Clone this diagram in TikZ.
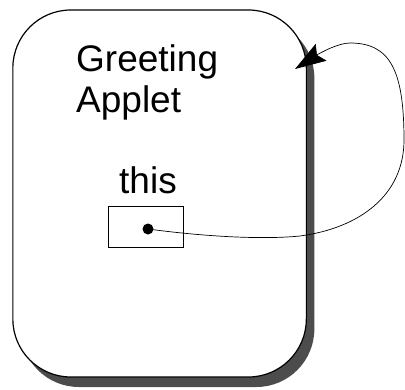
\documentclass[tikz,border=0pt]{standalone}
\usepackage{fontspec}
\setmainfont{Liberation Sans}
\usetikzlibrary{arrows.meta,shadows}

\begin{document}
\begin{tikzpicture}[x=1pt,y=-1pt,
    label/.style={anchor=base west,inner sep=0pt,font=\fontsize{37}{41}\selectfont},
    object/.style={draw,line width=1.2pt,rounded corners=58pt,fill=white,
      drop shadow={shadow xshift=8pt,shadow yshift=-10pt,fill=black!70,opacity=1}},
    slot/.style={draw,line width=0.8pt,inner sep=0pt},
    ref/.style={-{Stealth[length=31pt,width=20pt,inset=5pt]},line width=0.7pt}]

  \useasboundingbox (0,0) rectangle (405,389);

  \node[object,minimum width=293.5pt,minimum height=367pt] (applet) at (159.6,193.5) {};
  \node[label] (greeting) at (76,71)  {Greeting};
  \node[label] (name)     at (76,112) {Applet};
  \node[label] (this)     at (119,193) {this};

  \node[slot,minimum width=75pt,minimum height=41pt] (box) at (145.5,226.5) {};
  \node[circle,fill,inner sep=0pt,minimum size=11pt] (dot) at (148,229) {};
  \coordinate (target) at (295,69);

  \draw[ref] (dot.center) .. controls (200,236) and (260,240) .. (300,236)
                          .. controls (360,228) and (404,195) .. (404,140)
                          .. controls (404,70) and (390,43) .. (350,43)
                          .. controls (338,43) and (320,53) .. (target);
\end{tikzpicture}
\end{document}
